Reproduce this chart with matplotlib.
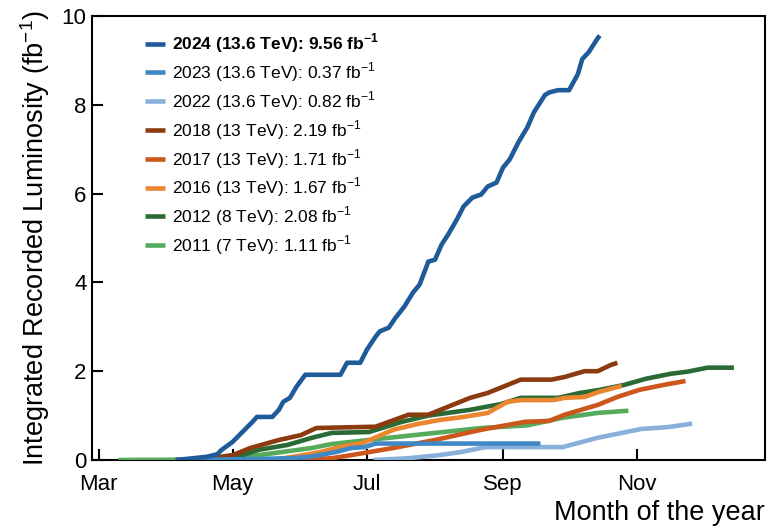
import numpy as np
import pandas as pd
import matplotlib
matplotlib.use("Agg")
import matplotlib.pyplot as plt
import matplotlib.dates as mdates

plt.rcParams['font.family'] = ['Liberation Sans', 'DejaVu Sans']
plt.rcParams['mathtext.fontset'] = 'custom'
plt.rcParams['mathtext.rm'] = 'Liberation Sans'
plt.rcParams['mathtext.bf'] = 'Liberation Sans:bold'

# dates are month-day, all put on one dummy year
d2024 = ["04-05", "04-19", "04-24", "04-26", "05-01", "05-10", "05-12", "05-19", "05-22", "05-24",
         "05-27", "05-30", "06-03", "06-19", "06-22", "06-28", "07-01", "07-05", "07-07", "07-11",
         "07-14", "07-18", "07-22", "07-25", "07-29", "08-01", "08-04", "08-07", "08-11", "08-14",
         "08-18", "08-22", "08-25", "08-29", "09-01", "09-04", "09-08", "09-12", "09-15", "09-20",
         "09-22", "09-26", "10-01", "10-05", "10-07", "10-10", "10-14", "10-15"]
v2024 = [0.0, 0.07, 0.13, 0.23, 0.41, 0.86, 0.97, 0.97, 1.13, 1.31,
         1.40, 1.65, 1.92, 1.92, 2.19, 2.19, 2.48, 2.78, 2.90, 2.98,
         3.20, 3.45, 3.77, 3.95, 4.47, 4.51, 4.85, 5.08, 5.42, 5.71,
         5.91, 5.98, 6.16, 6.25, 6.59, 6.77, 7.16, 7.49, 7.83, 8.22,
         8.28, 8.33, 8.33, 8.69, 9.03, 9.19, 9.50, 9.56]

d2023 = ["04-05", "05-09", "05-27", "06-05", "06-17", "06-24", "06-30", "07-05", "09-18"]
v2023 = [0.0, 0.02, 0.04, 0.07, 0.18, 0.27, 0.29, 0.37, 0.37]

d2022 = ["07-04", "07-20", "08-03", "08-13", "08-24", "09-28", "10-14", "10-25", "11-03", "11-15", "11-26"]
v2022 = [0.0, 0.04, 0.11, 0.18, 0.29, 0.29, 0.50, 0.61, 0.70, 0.74, 0.82]

d2018 = ["04-15", "05-01", "05-09", "05-22", "06-01", "06-08", "07-05", "07-20", "07-29",
         "08-17", "08-25", "09-09", "09-23", "09-29", "10-08", "10-14", "10-20", "10-23"]
v2018 = [0.0, 0.11, 0.27, 0.45, 0.56, 0.72, 0.75, 1.02, 1.02,
         1.40, 1.51, 1.81, 1.81, 1.87, 2.00, 2.00, 2.14, 2.19]

d2017 = ["06-01", "06-15", "06-24", "07-13", "08-01", "08-22", "09-11", "09-22", "09-29",
         "10-14", "10-23", "11-02", "11-13", "11-23"]
v2017 = [0.0, 0.04, 0.11, 0.27, 0.45, 0.68, 0.86, 0.88, 1.02,
         1.24, 1.42, 1.58, 1.69, 1.78]

d2016 = ["05-19", "06-01", "06-10", "06-21", "06-29", "07-13", "07-24", "08-03", "08-14",
         "08-25", "09-03", "09-09", "09-24", "09-29", "10-08", "10-15", "10-25"]
v2016 = [0.0, 0.10, 0.18, 0.32, 0.38, 0.68, 0.81, 0.90, 0.97,
         1.06, 1.31, 1.35, 1.35, 1.40, 1.42, 1.54, 1.67]

d2012 = ["04-20", "05-01", "05-13", "05-26", "06-06", "06-15", "07-02", "07-17", "07-29", "08-17",
         "08-31", "09-09", "09-26", "10-06", "10-15", "10-26", "11-05", "11-16", "11-24", "12-03", "12-15"]
v2012 = [0.0, 0.04, 0.23, 0.34, 0.50, 0.61, 0.63, 0.86, 1.00, 1.13,
         1.26, 1.40, 1.40, 1.51, 1.58, 1.69, 1.83, 1.94, 1.99, 2.08, 2.08]

d2011 = ["03-10", "04-22", "05-05", "05-19", "06-06", "06-15", "07-11", "08-03", "08-22",
         "09-12", "09-28", "10-14", "10-28"]
v2011 = [0.0, 0.01, 0.06, 0.15, 0.27, 0.36, 0.50, 0.62, 0.72,
         0.78, 0.95, 1.06, 1.11]

labels = [r"2024 (13.6 TeV): 9.56 fb$^{\mathbf{-1}}$",
          r"2023 (13.6 TeV): 0.37 fb$^{-1}$",
          r"2022 (13.6 TeV): 0.82 fb$^{-1}$",
          r"2018 (13 TeV): 2.19 fb$^{-1}$",
          r"2017 (13 TeV): 1.71 fb$^{-1}$",
          r"2016 (13 TeV): 1.67 fb$^{-1}$",
          r"2012 (8 TeV): 2.08 fb$^{-1}$",
          r"2011 (7 TeV): 1.11 fb$^{-1}$"]
colors = ["#1f5b99", "#3f88c5", "#88b0da", "#8c3a0f", "#cc561c", "#ea8530", "#2a6b35", "#55ab5b"]
dates = [d2024, d2023, d2022, d2018, d2017, d2016, d2012, d2011]
values = [v2024, v2023, v2022, v2018, v2017, v2016, v2012, v2011]


def to_dt(lst):
    return pd.to_datetime(["2023-" + s for s in lst])


fig = plt.figure(figsize=(7.67, 5.26), dpi=100)
ax = fig.add_axes([0.12, 0.1255, 0.877, 0.844])

lines = []
for i in range(len(labels)):
    ln, = ax.plot(to_dt(dates[i]), values[i], color=colors[i], lw=3.3,
                  zorder=10 - i, solid_capstyle='butt')
    lines.append(ln)

ax.set_xlim(pd.Timestamp("2023-02-26"), pd.Timestamp("2023-12-29"))
ax.set_ylim(0, 10)
ax.xaxis.set_major_locator(mdates.MonthLocator(bymonth=[3, 5, 7, 9, 11]))
ax.xaxis.set_major_formatter(mdates.DateFormatter('%b'))
ax.set_yticks([0, 2, 4, 6, 8, 10])
ax.tick_params(direction='in', length=8, width=1.5, labelsize=16)
ax.tick_params(axis='x', pad=10)
ax.tick_params(axis='y', pad=4)
for sp in ax.spines.values():
    sp.set_linewidth(1.5)

ax.set_ylabel(r"Integrated Recorded Luminosity (fb$^{-1}$)", fontsize=19.5, labelpad=7)
ax.set_xlabel("Month of the year", fontsize=19.5, loc='right', labelpad=4)

leg = ax.legend(lines, labels, loc='upper left', bbox_to_anchor=(0.055, 1.0),
                frameon=False, fontsize=12.5, handlelength=1.15, handletextpad=0.4,
                labelspacing=0.3)
leg.get_texts()[0].set_fontweight('bold')

fig.savefig("out.png", dpi=100)
